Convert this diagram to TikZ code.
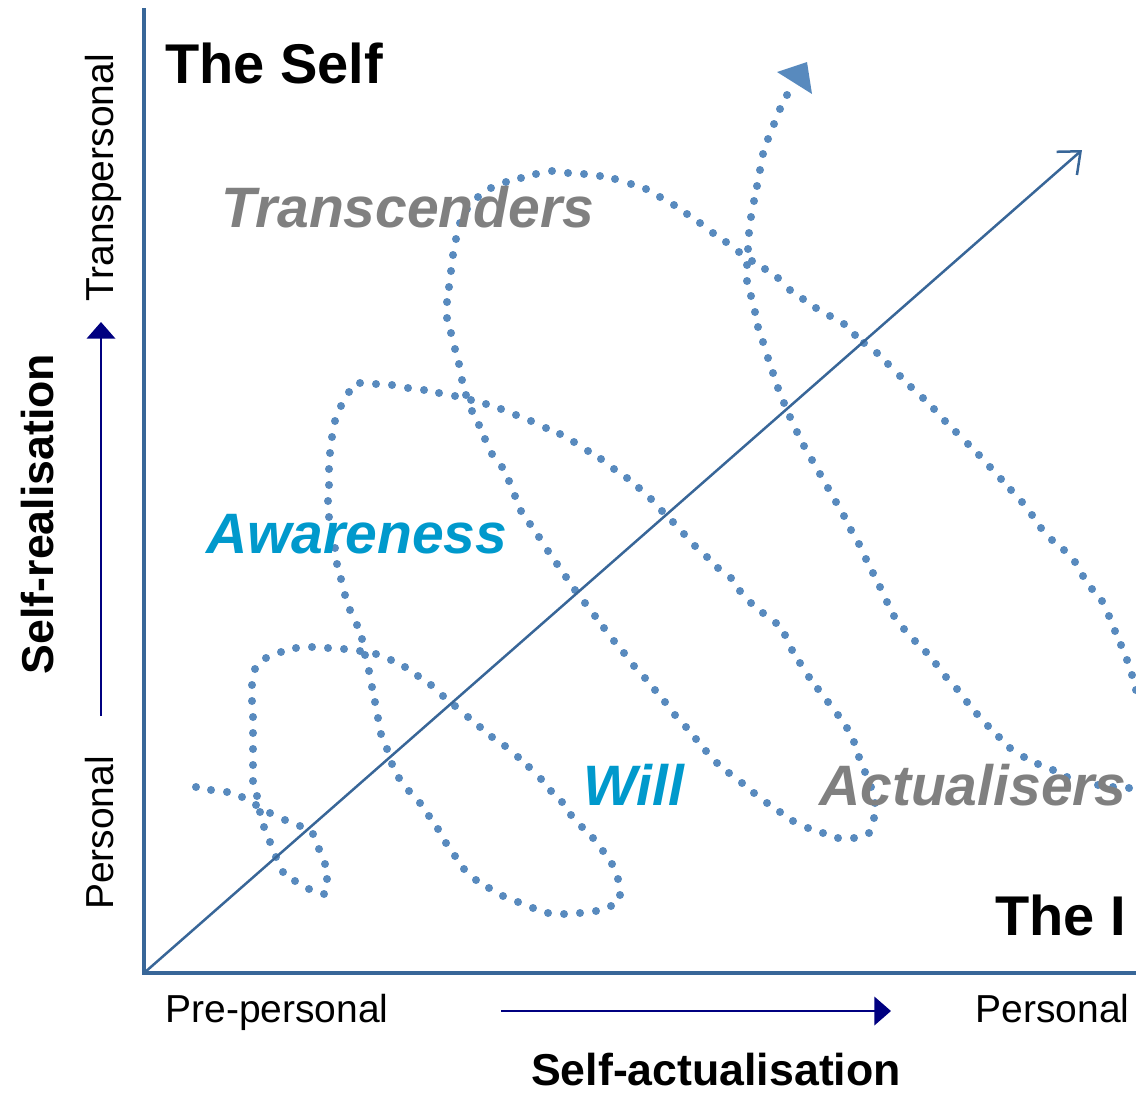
\documentclass[tikz,border=0pt]{standalone}
\usepackage{fontspec}
\setmainfont{Liberation Sans}
\usetikzlibrary{arrows.meta}
\definecolor{dotblue}{RGB}{88,138,190}
\definecolor{axisblue}{RGB}{56,102,152}
\definecolor{navyarr}{RGB}{0,0,128}
\definecolor{cyantext}{RGB}{0,153,204}
\definecolor{graytext}{RGB}{128,128,128}
\tikzset{
  axisline/.style={draw=axisblue, line width=2.6pt},
  diagline/.style={draw=axisblue, line width=1.5pt, -{Straight Barb[length=11pt,width=18.5pt]}},
  navyline/.style={draw=navyarr, line width=1.7pt, -{Triangle[length=10pt,width=17pt]}},
  spiraldot/.style={fill=dotblue},
  bigbold/.style={font=\fontsize{33.6}{40}\selectfont\bfseries, inner sep=0pt},
  bigital/.style={font=\fontsize{34.2}{40}\selectfont\bfseries\itshape, inner sep=0pt},
  axislabel/.style={font=\fontsize{23.4}{28}\selectfont, inner sep=0pt},
  axistitle/.style={font=\fontsize{26.8}{30}\selectfont\bfseries, inner sep=0pt},
}
\begin{document}
\begin{tikzpicture}[x=0.6pt,y=-0.6pt]
\useasboundingbox (0,0) rectangle (1136,1092);

% coordinates
\coordinate (origin) at (144,973);
\coordinate (ytop) at (144,8);
\coordinate (xend) at (1136,973);
\coordinate (diagend) at (1082,150);
\coordinate (varrS) at (101,716);
\coordinate (varrE) at (101,322);
\coordinate (harrS) at (501,1011);
\coordinate (harrE) at (891,1011);

% dotted spiral (dot centres)
\foreach \x/\y in {
196/787, 211/790, 227/792, 242/797, 256/805, 270/813, 285/820, 300/826, 313/834, 319/849,
325/864, 327/879, 324/894, 309/889, 295/881, 283/872, 276/857, 270/842, 264/827, 260/812,
257/796, 253/781, 253/765, 253/749, 253/733, 253/717, 252/701, 252/685, 255/669, 266/658,
281/652, 296/648, 312/647, 328/648, 344/649, 360/651, 376/654, 391/660, 405/667, 418/676,
431/685, 443/696, 455/706, 468/717, 480/727, 492/737, 505/746, 518/757, 529/767, 541/779,
551/791, 562/802, 571/815, 582/827, 593/838, 603/851, 612/864, 618/879, 620/895, 611/906,
596/911, 580/913, 564/914, 548/913, 533/908, 518/902, 503/896, 489/888, 476/880, 464/869,
455/856, 446/843, 438/829, 429/816, 420/803, 409/791, 399/778, 392/764, 387/749, 381/734,
378/718, 375/702, 372/687, 369/671, 365/655, 362/639, 357/625, 350/610, 345/595, 341/579,
337/564, 335/548, 332/533, 329/517, 328/501, 329/485, 329/469, 330/453, 332/437, 335/421,
341/406, 349/392, 360/383, 376/384, 392/385, 408/388, 424/390, 439/393, 455/396, 471/400,
486/404, 501/409, 516/415, 531/421, 546/428, 560/434, 574/442, 588/451, 601/459, 614/469,
627/478, 639/488, 651/499, 662/511, 673/522, 684/534, 695/546, 707/557, 718/568, 731/578,
740/591, 751/603, 763/613, 776/623, 785/635, 792/650, 800/663, 809/677, 818/689, 828/702,
838/715, 847/728, 854/742, 859/757, 865/772, 871/787, 875/803, 874/818, 869/833, 854/838,
838/838, 823/833, 808/828, 793/821, 780/812, 767/803, 754/793, 742/783, 729/773, 717/763,
706/751, 696/739, 686/727, 675/715, 665/702, 655/690, 645/678, 634/666, 624/653, 614/641,
604/628, 595/616, 585/603, 575/590, 566/577, 557/564, 548/551, 539/537, 530/524, 521/511,
515/496, 509/481, 502/467, 492/454, 485/439, 479/425, 472/411, 466/395, 462/380, 459/364,
455/349, 451/333, 447/318, 447/302, 449/287, 451/271, 453/255, 456/239, 460/223, 467/209,
478/197, 491/188, 506/182, 521/178, 536/174, 552/171, 568/173, 584/174, 600/176, 615/179,
631/184, 646/189, 660/197, 674/205, 687/214, 700/223, 713/233, 726/242, 739/252, 752/261,
765/269, 778/278, 790/290, 803/299, 816/308, 830/316, 844/324, 855/335, 864/343, 877/353,
888/364, 900/376, 911/387, 923/398, 934/409, 945/421, 956/432, 968/444, 979/455, 990/467,
1001/479, 1011/490, 1022/502, 1032/515, 1041/528, 1052/540, 1064/550, 1075/562, 1083/576, 1092/589,
1102/601, 1109/616, 1115/631, 1121/645, 1127/660, 1132/675, 1136/690,
1129/788, 1113/787, 1098/785, 1082/782, 1067/777, 1053/770, 1038/764, 1024/757, 1010/748, 999/737,
988/726, 977/714, 967/702, 957/689, 946/677, 936/664, 926/652, 915/641, 904/629, 894/616,
887/602, 880/587, 873/573, 866/559, 859/544, 851/530, 844/516, 836/502, 828/488, 820/474,
812/460, 804/446, 797/432, 790/417, 784/403, 778/388, 773/373, 768/358, 763/342, 758/327,
755/312, 751/296, 747/281, 747/265, 748/249, 749/233, 751/217, 754/201, 757/186, 760/170,
763/154, 768/139, 774/124, 780/109, 787/95}
  \fill[spiraldot] (\x,\y) circle [radius=4.0];
\fill[spiraldot] (777,72) -- (807,62) -- (812,94) -- cycle;

% axes
\draw[axisline] (ytop) -- (origin);
\draw[axisline] (142,973) -- (xend);
\draw[diagline] (origin) -- (diagend);
\draw[navyline] (varrS) -- (varrE);
\draw[navyline] (harrS) -- (harrE);

% labels
\node[bigbold, anchor=base west] (self) at (165,83) {The Self};
\node[bigbold, anchor=base east] (theI) at (1126,935) {The I};
\node[bigital, text=graytext, anchor=base west] (trans) at (221,227) {Transcenders};
\node[bigital, text=cyantext, anchor=base west] (aware) at (206,553) {Awareness};
\node[bigital, text=cyantext, anchor=base west] (will) at (583,805) {Will};
\node[bigital, text=graytext, anchor=base west] (actual) at (819,805) {Actualisers};

\node[axislabel, anchor=base] (prep) at (277,1022) {Pre-personal};
\node[axislabel, anchor=base east] (persx) at (1130,1022) {Personal};
\node[axistitle, anchor=base] (sacta) at (716,1085) {Self-actualisation};

\node[axislabel, anchor=base, rotate=90] (transp) at (113,178) {Transpersonal};
\node[axislabel, anchor=base, rotate=90] (persy) at (113,833) {Personal};
\node[axistitle, anchor=base, rotate=90] (sreal) at (53,514) {Self-realisation};
\end{tikzpicture}
\end{document}
